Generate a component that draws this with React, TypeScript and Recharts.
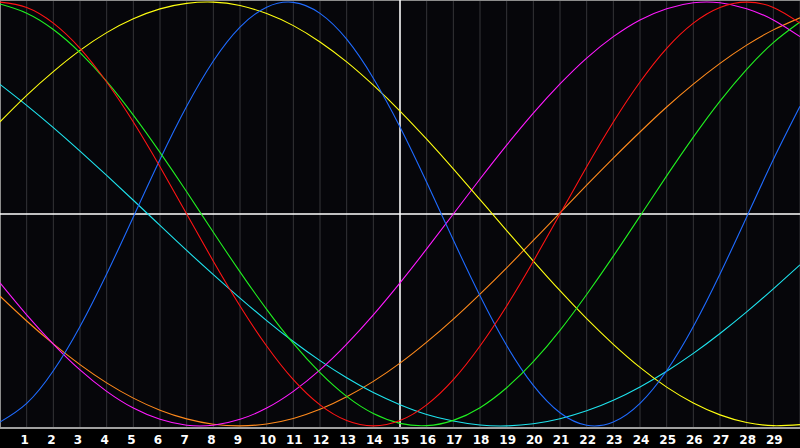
import React from "react";
import {
  LineChart,
  Line,
  XAxis,
  YAxis,
  CartesianGrid,
  ReferenceLine,
} from "recharts";

// day index 0..30 (ticks shown for 1..29)
const days = [
  0, 1, 2, 3, 4, 5, 6, 7, 8, 9, 10, 11, 12, 13, 14, 15, 16, 17, 18, 19, 20,
  21, 22, 23, 24, 25, 26, 27, 28, 29, 30,
];
const tickDays = [
  1, 2, 3, 4, 5, 6, 7, 8, 9, 10, 11, 12, 13, 14, 15, 16, 17, 18, 19, 20, 21,
  22, 23, 24, 25, 26, 27, 28, 29,
];

// values, -1..1
const red = [
  1.0, 0.975, 0.901, 0.782, 0.623, 0.434, 0.223, 0.0, -0.223, -0.434, -0.623,
  -0.782, -0.901, -0.975, -1.0, -0.975, -0.901, -0.782, -0.623, -0.434,
  -0.223, 0.0, 0.223, 0.434, 0.623, 0.782, 0.901, 0.975, 1.0, 0.975, 0.901,
];
const green = [
  0.991, 0.948, 0.871, 0.762, 0.626, 0.467, 0.291, 0.105, -0.086, -0.273,
  -0.45, -0.611, -0.749, -0.861, -0.942, -0.988, -0.999, -0.974, -0.914,
  -0.82, -0.697, -0.549, -0.38, -0.199, -0.01, 0.18, 0.363, 0.533, 0.683,
  0.809, 0.906,
];
const blue = [
  -0.982, -0.894, -0.74, -0.531, -0.283, -0.014, 0.257, 0.508, 0.722, 0.882,
  0.976, 0.999, 0.947, 0.825, 0.641, 0.411, 0.15, -0.123, -0.386, -0.621,
  -0.809, -0.938, -0.997, -0.982, -0.894, -0.74, -0.531, -0.283, -0.014,
  0.257, 0.508,
];
const yellow = [
  0.435, 0.56, 0.672, 0.772, 0.856, 0.921, 0.968, 0.994, 1.0, 0.984, 0.946,
  0.889, 0.812, 0.718, 0.608, 0.486, 0.353, 0.213, 0.068, -0.078, -0.222,
  -0.362, -0.494, -0.615, -0.724, -0.817, -0.892, -0.948, -0.984, -0.999,
  -0.994,
];
const magenta = [
  -0.325, -0.476, -0.614, -0.736, -0.837, -0.916, -0.969, -0.997, -0.997,
  -0.969, -0.916, -0.837, -0.736, -0.614, -0.476, -0.325, -0.165, 0.0, 0.165,
  0.325, 0.476, 0.614, 0.736, 0.837, 0.916, 0.969, 0.997, 0.997, 0.969,
  0.916, 0.837,
];
const orange = [
  -0.388, -0.505, -0.613, -0.711, -0.797, -0.869, -0.926, -0.967, -0.992,
  -1.0, -0.991, -0.965, -0.922, -0.863, -0.79, -0.704, -0.605, -0.496,
  -0.378, -0.254, -0.125, 0.005, 0.136, 0.264, 0.387, 0.505, 0.613, 0.711,
  0.797, 0.869, 0.926,
];
const cyan = [
  0.612, 0.513, 0.408, 0.297, 0.182, 0.065, -0.054, -0.172, -0.286, -0.397,
  -0.503, -0.602, -0.692, -0.773, -0.843, -0.9, -0.946, -0.977, -0.996, -1.0,
  -0.99, -0.966, -0.929, -0.879, -0.816, -0.742, -0.658, -0.564, -0.462,
  -0.353, -0.24,
];

const series = [
  { key: "orange", color: "#ff8a1c" },
  { key: "cyan", color: "#1ee3ee" },
  { key: "magenta", color: "#ff1aff" },
  { key: "yellow", color: "#ffff10" },
  { key: "blue", color: "#1f6bff" },
  { key: "green", color: "#20f020" },
  { key: "red", color: "#ff1414" },
];

const data = days.map((d, i) => ({
  day: d,
  red: red[i],
  green: green[i],
  blue: blue[i],
  yellow: yellow[i],
  magenta: magenta[i],
  orange: orange[i],
  cyan: cyan[i],
}));

const DayTick = (props: any) => {
  const { x, payload } = props;
  const label = String(payload.value);
  return (
    <text
      x={label.length === 1 ? x - 2 : x + 1}
      y={443.5}
      textAnchor="middle"
      fill="#ffffff"
      fontSize={12}
      fontWeight="bold"
      fontFamily="'DejaVu Sans', sans-serif"
    >
      {label}
    </text>
  );
};

export default function App() {
  return (
    <div
      style={{
        position: "fixed",
        left: 0,
        top: 0,
        width: 800,
        height: 448,
        background: "#000000",
      }}
    >
      <LineChart
        width={800}
        height={448}
        data={data}
        margin={{ top: 0, right: 0, left: 0, bottom: 0 }}
      >
        <CartesianGrid
          horizontal={false}
          stroke="#343438"
          strokeWidth={1}
          fill="#06060a"
        />
        <XAxis
          dataKey="day"
          type="number"
          domain={[0, 30]}
          ticks={tickDays}
          interval={0}
          height={20}
          tickLine={false}
          axisLine={{ stroke: "#a0a0a0", strokeWidth: 2 }}
          tick={<DayTick />}
        />
        <YAxis hide domain={[-1.01, 1.01]} />
        <ReferenceLine x={0} stroke="#8c8c8c" strokeWidth={2} />
        <ReferenceLine y={1.01} stroke="#8c8c8c" strokeWidth={2} />
        <ReferenceLine x={15} stroke="#ffffff" strokeWidth={1.5} />
        <ReferenceLine y={0} stroke="#ffffff" strokeWidth={1.5} />
        {series.map((s) => (
          <Line
            key={s.key}
            type="natural"
            dataKey={s.key}
            stroke={s.color}
            strokeWidth={1.1}
            dot={false}
            activeDot={false}
            isAnimationActive={false}
          />
        ))}
      </LineChart>
    </div>
  );
}
